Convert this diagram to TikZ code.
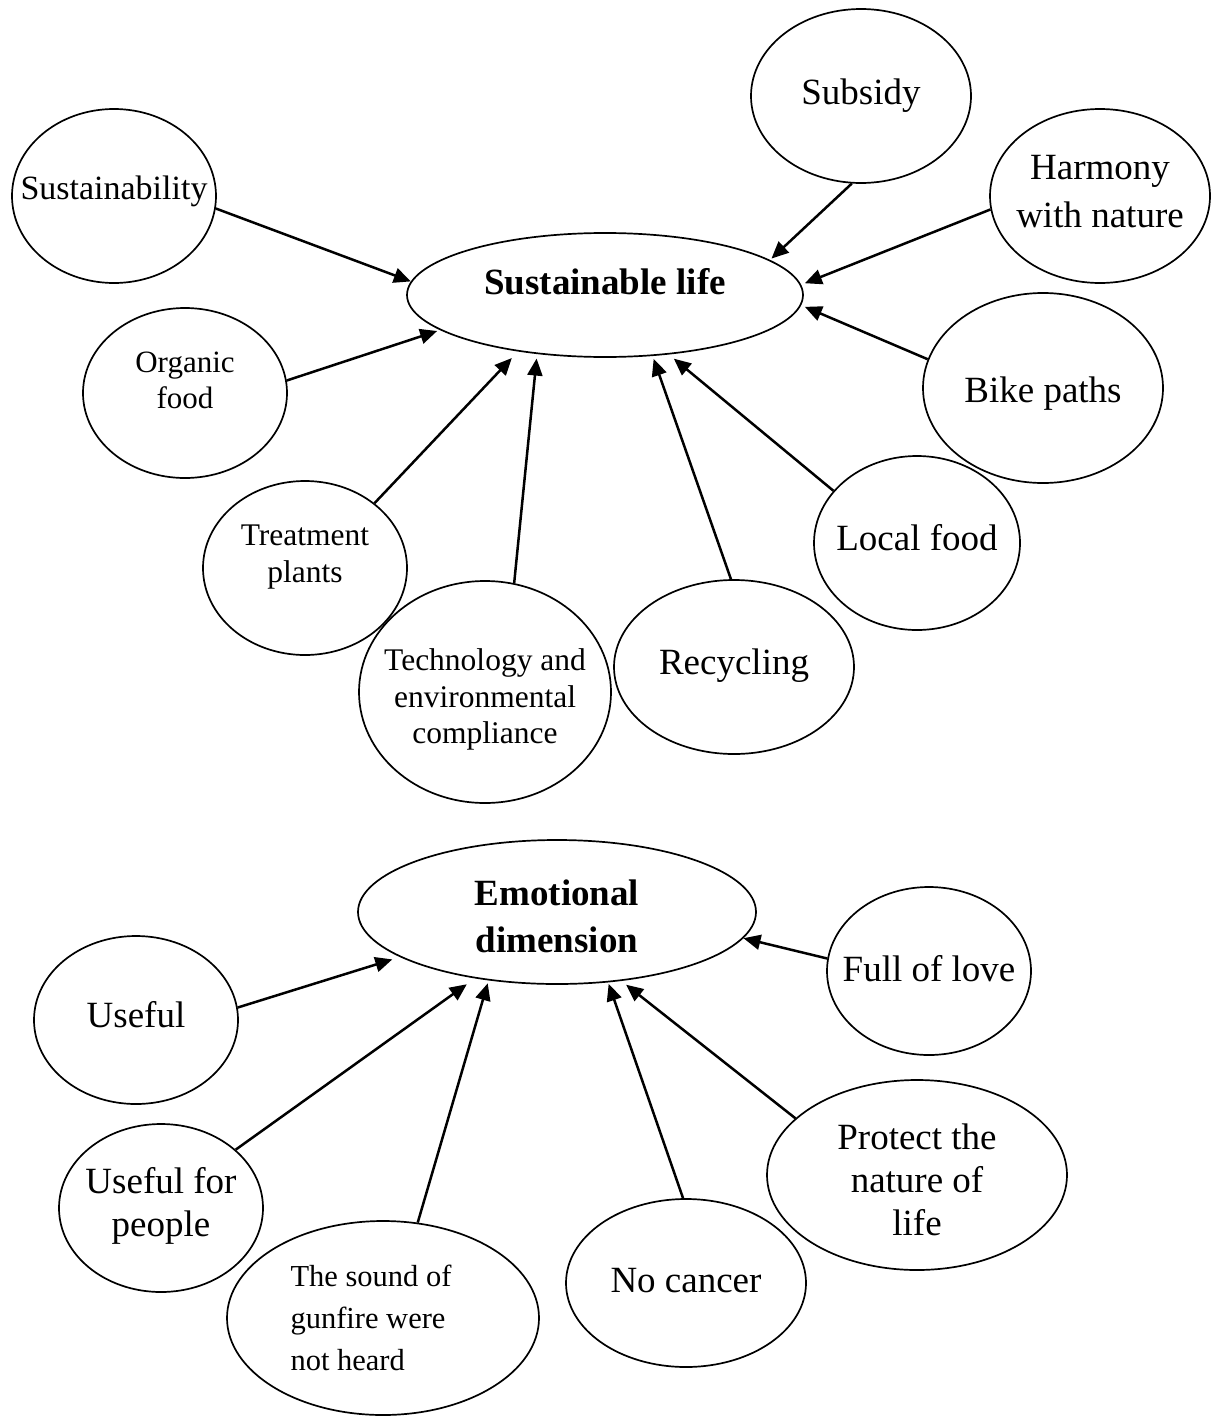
\documentclass[tikz,border=0pt]{standalone}
\usepackage{fontspec}
\setmainfont{Liberation Serif}
\usetikzlibrary{shapes.geometric,arrows.meta}
\newcommand\fs[2]{\fontsize{#1}{#2}\selectfont}
% text of a bubble in a box of no size, so that the ellipse keeps its given size
\newcommand\inbox[3][@{}c@{}]{\raisebox{#2}[0pt][0pt]{\makebox[0pt]{\begin{tabular}{#1}#3\end{tabular}}}}
\begin{document}
\begin{tikzpicture}[x=1pt,y=-1pt,
  bubble/.style={ellipse,draw,line width=1.7pt,inner sep=0pt,font=\fs{37}{47}},
  hub/.style={bubble,font=\fs{37}{47}\bfseries},
  link/.style={-{Triangle[length=17pt,width=15pt]},line width=2.5pt}]
\useasboundingbox (0,0) rectangle (1211,1416);

% sustainable life
\node[hub,minimum width=396pt,minimum height=124pt] (life) at (605,295) {\inbox{4pt}{Sustainable life}};
\node[bubble,minimum width=204pt,minimum height=174pt,font=\fs{34}{40}] (sust) at (114,196) {\inbox{-2pt}{Sustainability}};
\node[bubble,minimum width=204pt,minimum height=170pt,font=\fs{31}{36}] (organic) at (185,393) {\inbox{3pt}{Organic\\food}};
\node[bubble,minimum width=220pt,minimum height=174pt] (subsidy) at (861,96) {\inbox{-5pt}{Subsidy}};
\node[bubble,minimum width=220pt,minimum height=174pt,font=\fs{37}{48}] (harmony) at (1100,196) {\inbox{-4pt}{Harmony\\with nature}};
\node[bubble,minimum width=240pt,minimum height=190pt] (bike) at (1043,388) {\inbox{-11pt}{Bike paths}};
\node[bubble,minimum width=204pt,minimum height=174pt,font=\fs{31.5}{37}] (treat) at (305,568) {\inbox{5.6pt}{Treatment\\plants}};
\node[bubble,minimum width=252pt,minimum height=222pt,font=\fs{31.5}{36.5}] (tech) at (485,692) {\inbox{-14pt}{Technology and\\environmental\\compliance}};
\node[bubble,minimum width=240pt,minimum height=174pt] (recycle) at (734,667) {\inbox{-4.6pt}{Recycling}};
\node[bubble,minimum width=206pt,minimum height=174pt] (local) at (917,543) {\inbox{-4.6pt}{Local food}};

\draw[link] (sust.353) -- (life.176);
\draw[link,shorten >=3pt] (organic.7) -- (life.192.6);
\draw[link,shorten >=2pt] (subsidy.264) -- (life.12.8);
\draw[link,shorten >=4pt] (harmony.187) -- (life.3.8);
\draw[link,shorten >=4pt] (bike.166) -- (life.-3.9);
\draw[link,shorten >=9pt] (treat.43) -- (life.213.6);
\draw[link,shorten >=4.5pt] (tech.75) -- (life.221.3);
\draw[link,shorten >=3pt] (recycle.92) -- (life.-52);
\draw[link,shorten >=6.5pt] (local.148) -- (life.-43.1);

% emotional dimension
\node[hub,minimum width=398pt,minimum height=144pt] (emotion) at (557,912) {\inbox{-14pt}{Emotional\\dimension}};
\node[bubble,minimum width=204pt,minimum height=168pt] (useful) at (136,1020) {\inbox{-4pt}{Useful}};
\node[bubble,minimum width=204pt,minimum height=168pt,font=\fs{37}{43}] (people) at (161,1208) {\inbox{-5pt}{Useful for\\people}};
\node[bubble,minimum width=312pt,minimum height=194pt,font=\fs{30.5}{42}] (gunfire) at (383,1318) {\inbox[@{}l@{\hspace{24pt}}]{-8.5pt}{The sound of\\gunfire were\\not heard}};
\node[bubble,minimum width=240pt,minimum height=168pt] (nocancer) at (686,1283) {\inbox{-6pt}{No cancer}};
\node[bubble,minimum width=300pt,minimum height=190pt,font=\fs{37}{43}] (protect) at (917,1175) {\inbox{-14.8pt}{Protect the\\nature of\\life}};
\node[bubble,minimum width=204pt,minimum height=168pt] (love) at (929,971) {\inbox{-7pt}{Full of love}};

\draw[link,shorten >=8pt] (useful.7) -- (emotion.196.3);
\draw[link,shorten >=10pt] (people.38) -- (emotion.219);
\draw[link,shorten >=3pt] (gunfire.70) -- (emotion.225.8);
\draw[link,shorten >=1.5pt] (nocancer.92) -- (emotion.-54.6);
\draw[link,shorten >=6pt] (protect.155) -- (emotion.-47.2);
\draw[link] (love.173) -- (emotion.-8.1);
\end{tikzpicture}
\end{document}
